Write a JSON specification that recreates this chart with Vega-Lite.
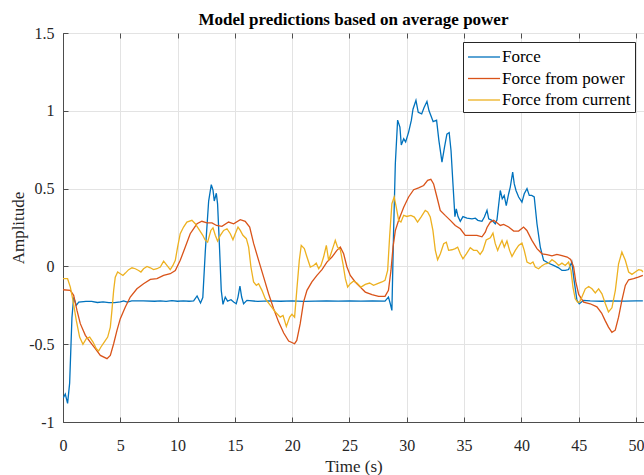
{
  "$schema": "https://vega.github.io/schema/vega-lite/v6.json",
  "width": 581,
  "height": 389,
  "autosize": {"type": "none"},
  "padding": {"left": 63, "top": 33, "right": 0, "bottom": 53},
  "background": "white",
  "title": {"text": "Model predictions based on average power", "font": "Liberation Serif", "fontSize": 17, "fontWeight": "bold", "color": "#000000", "anchor": "middle", "offset": -4},
  "config": {
    "font": "Liberation Serif",
    "view": {"stroke": "#4d4d4d", "strokeWidth": 1},
    "axis": {"labelFont": "Liberation Serif", "titleFont": "Liberation Serif", "labelFontSize": 16, "titleFontSize": 17, "titleFontWeight": "normal", "labelColor": "#262626", "titleColor": "#262626", "domainColor": "#4d4d4d", "tickColor": "#4d4d4d", "gridColor": "#e3e3e3", "gridWidth": 1}
  },
  "datasets": {
    "force": [
      {"time":0,"amplitude":-0.84},{"time":0.06,"amplitude":-0.84},{"time":0.2,"amplitude":-0.82},{"time":0.4,"amplitude":-0.88},{"time":0.58,"amplitude":-0.75},{"time":0.78,"amplitude":-0.33},{"time":0.93,"amplitude":-0.2},{"time":1.16,"amplitude":-0.25},{"time":1.37,"amplitude":-0.23},{"time":2,"amplitude":-0.225},{"time":2.5,"amplitude":-0.225},{"time":3,"amplitude":-0.232},{"time":3.5,"amplitude":-0.228},{"time":4,"amplitude":-0.233},{"time":4.5,"amplitude":-0.233},{"time":5,"amplitude":-0.228},{"time":5.3,"amplitude":-0.222},{"time":5.6,"amplitude":-0.23},{"time":6,"amplitude":-0.222},{"time":7,"amplitude":-0.222},{"time":8,"amplitude":-0.224},{"time":8.5,"amplitude":-0.222},{"time":9,"amplitude":-0.225},{"time":9.5,"amplitude":-0.22},{"time":10,"amplitude":-0.224},{"time":10.5,"amplitude":-0.222},{"time":11,"amplitude":-0.224},{"time":11.4,"amplitude":-0.222},{"time":11.7,"amplitude":-0.19},{"time":12.0,"amplitude":-0.235},{"time":12.2,"amplitude":-0.2},{"time":12.42,"amplitude":0.1},{"time":12.71,"amplitude":0.42},{"time":12.94,"amplitude":0.525},{"time":13.09,"amplitude":0.49},{"time":13.2,"amplitude":0.42},{"time":13.38,"amplitude":0.47},{"time":13.49,"amplitude":0.4},{"time":13.67,"amplitude":0.1},{"time":13.81,"amplitude":-0.154},{"time":13.96,"amplitude":-0.244},{"time":14.16,"amplitude":-0.197},{"time":14.36,"amplitude":-0.223},{"time":14.66,"amplitude":-0.214},{"time":14.89,"amplitude":-0.229},{"time":15.12,"amplitude":-0.24},{"time":15.27,"amplitude":-0.197},{"time":15.44,"amplitude":-0.126},{"time":15.59,"amplitude":-0.197},{"time":15.76,"amplitude":-0.24},{"time":16.05,"amplitude":-0.218},{"time":17,"amplitude":-0.225},{"time":18,"amplitude":-0.222},{"time":19,"amplitude":-0.224},{"time":20,"amplitude":-0.222},{"time":21,"amplitude":-0.225},{"time":22,"amplitude":-0.223},{"time":23,"amplitude":-0.222},{"time":24,"amplitude":-0.223},{"time":25,"amplitude":-0.222},{"time":26,"amplitude":-0.223},{"time":27,"amplitude":-0.222},{"time":28.1,"amplitude":-0.223},{"time":28.4,"amplitude":-0.197},{"time":28.56,"amplitude":-0.24},{"time":28.7,"amplitude":-0.283},{"time":28.85,"amplitude":0.23},{"time":29.0,"amplitude":0.66},{"time":29.2,"amplitude":0.94},{"time":29.4,"amplitude":0.895},{"time":29.52,"amplitude":0.78},{"time":29.73,"amplitude":0.82},{"time":29.9,"amplitude":0.8},{"time":30.16,"amplitude":0.863},{"time":30.4,"amplitude":0.94},{"time":30.54,"amplitude":1.01},{"time":30.8,"amplitude":1.067},{"time":31.0,"amplitude":0.99},{"time":31.3,"amplitude":0.98},{"time":31.5,"amplitude":1.02},{"time":31.76,"amplitude":1.06},{"time":31.94,"amplitude":1.0},{"time":32.1,"amplitude":0.97},{"time":32.3,"amplitude":0.93},{"time":32.6,"amplitude":0.94},{"time":32.8,"amplitude":0.81},{"time":33.07,"amplitude":0.67},{"time":33.3,"amplitude":0.77},{"time":33.5,"amplitude":0.85},{"time":33.7,"amplitude":0.86},{"time":33.86,"amplitude":0.745},{"time":34.03,"amplitude":0.53},{"time":34.2,"amplitude":0.32},{"time":34.32,"amplitude":0.37},{"time":34.47,"amplitude":0.32},{"time":34.67,"amplitude":0.29},{"time":34.9,"amplitude":0.32},{"time":35.25,"amplitude":0.31},{"time":35.69,"amplitude":0.306},{"time":35.98,"amplitude":0.31},{"time":36.2,"amplitude":0.296},{"time":36.56,"amplitude":0.29},{"time":36.77,"amplitude":0.317},{"time":37.0,"amplitude":0.36},{"time":37.15,"amplitude":0.306},{"time":37.43,"amplitude":0.296},{"time":37.72,"amplitude":0.274},{"time":37.87,"amplitude":0.3},{"time":38.16,"amplitude":0.488},{"time":38.33,"amplitude":0.435},{"time":38.5,"amplitude":0.456},{"time":38.68,"amplitude":0.39},{"time":38.89,"amplitude":0.467},{"time":39.03,"amplitude":0.51},{"time":39.24,"amplitude":0.606},{"time":39.38,"amplitude":0.53},{"time":39.53,"amplitude":0.488},{"time":39.76,"amplitude":0.446},{"time":40.05,"amplitude":0.413},{"time":40.25,"amplitude":0.467},{"time":40.49,"amplitude":0.5},{"time":40.69,"amplitude":0.456},{"time":40.9,"amplitude":0.456},{"time":41.12,"amplitude":0.446},{"time":41.36,"amplitude":0.274},{"time":41.65,"amplitude":0.124},{"time":41.94,"amplitude":0.039},{"time":42.38,"amplitude":0.02},{"time":42.81,"amplitude":0.006},{"time":43.25,"amplitude":-0.009},{"time":43.54,"amplitude":-0.026},{"time":43.83,"amplitude":-0.026},{"time":44.12,"amplitude":-0.02},{"time":44.4,"amplitude":0.028},{"time":44.6,"amplitude":-0.09},{"time":44.85,"amplitude":-0.218},{"time":45.05,"amplitude":-0.24},{"time":45.43,"amplitude":-0.218},{"time":46,"amplitude":-0.222},{"time":47,"amplitude":-0.224},{"time":48,"amplitude":-0.222},{"time":49,"amplitude":-0.223},{"time":50,"amplitude":-0.222},{"time":50.6,"amplitude":-0.222}
    ],
    "power": [
      {"time":0,"amplitude":-0.15},{"time":0.64,"amplitude":-0.154},{"time":0.93,"amplitude":-0.186},{"time":1.22,"amplitude":-0.283},{"time":1.51,"amplitude":-0.368},{"time":1.95,"amplitude":-0.443},{"time":2.38,"amplitude":-0.486},{"time":2.82,"amplitude":-0.529},{"time":3.26,"amplitude":-0.572},{"time":3.84,"amplitude":-0.593},{"time":4.13,"amplitude":-0.572},{"time":4.42,"amplitude":-0.497},{"time":4.71,"amplitude":-0.411},{"time":5.0,"amplitude":-0.336},{"time":5.44,"amplitude":-0.261},{"time":5.87,"amplitude":-0.197},{"time":6.45,"amplitude":-0.144},{"time":7.03,"amplitude":-0.111},{"time":7.62,"amplitude":-0.084},{"time":8.2,"amplitude":-0.079},{"time":8.78,"amplitude":-0.058},{"time":9.36,"amplitude":-0.047},{"time":9.8,"amplitude":-0.026},{"time":10.23,"amplitude":0.039},{"time":10.67,"amplitude":0.124},{"time":11.1,"amplitude":0.21},{"time":11.69,"amplitude":0.274},{"time":12.12,"amplitude":0.29},{"time":12.56,"amplitude":0.28},{"time":13.0,"amplitude":0.28},{"time":13.4,"amplitude":0.263},{"time":13.87,"amplitude":0.257},{"time":14.45,"amplitude":0.285},{"time":14.89,"amplitude":0.274},{"time":15.47,"amplitude":0.3},{"time":15.9,"amplitude":0.29},{"time":16.29,"amplitude":0.253},{"time":16.64,"amplitude":0.146},{"time":17.07,"amplitude":0.039},{"time":17.51,"amplitude":-0.069},{"time":17.94,"amplitude":-0.176},{"time":18.38,"amplitude":-0.272},{"time":18.82,"amplitude":-0.358},{"time":19.26,"amplitude":-0.428},{"time":19.69,"amplitude":-0.48},{"time":20.21,"amplitude":-0.497},{"time":20.4,"amplitude":-0.476},{"time":20.7,"amplitude":-0.368},{"time":20.99,"amplitude":-0.229},{"time":21.29,"amplitude":-0.154},{"time":21.72,"amplitude":-0.1},{"time":22.16,"amplitude":-0.058},{"time":22.6,"amplitude":-0.021},{"time":23.03,"amplitude":0.028},{"time":23.47,"amplitude":0.06},{"time":23.9,"amplitude":0.103},{"time":24.2,"amplitude":0.124},{"time":24.49,"amplitude":0.081},{"time":24.78,"amplitude":-0.004},{"time":25.07,"amplitude":-0.058},{"time":25.5,"amplitude":-0.1},{"time":25.94,"amplitude":-0.133},{"time":26.38,"amplitude":-0.165},{"time":26.96,"amplitude":-0.182},{"time":27.54,"amplitude":-0.193},{"time":28.1,"amplitude":-0.193},{"time":28.4,"amplitude":-0.154},{"time":28.62,"amplitude":-0.026},{"time":28.8,"amplitude":0.124},{"time":29.0,"amplitude":0.23},{"time":29.29,"amplitude":0.296},{"time":29.73,"amplitude":0.38},{"time":30.16,"amplitude":0.446},{"time":30.6,"amplitude":0.493},{"time":31.03,"amplitude":0.505},{"time":31.47,"amplitude":0.52},{"time":31.82,"amplitude":0.553},{"time":32.1,"amplitude":0.56},{"time":32.34,"amplitude":0.53},{"time":32.63,"amplitude":0.446},{"time":32.92,"amplitude":0.36},{"time":33.35,"amplitude":0.328},{"time":33.8,"amplitude":0.296},{"time":34.23,"amplitude":0.263},{"time":34.67,"amplitude":0.242},{"time":35.1,"amplitude":0.2},{"time":35.54,"amplitude":0.2},{"time":36.12,"amplitude":0.2},{"time":36.56,"amplitude":0.19},{"time":36.85,"amplitude":0.22},{"time":37.0,"amplitude":0.25},{"time":37.29,"amplitude":0.285},{"time":37.58,"amplitude":0.296},{"time":37.87,"amplitude":0.28},{"time":38.16,"amplitude":0.263},{"time":38.45,"amplitude":0.27},{"time":38.89,"amplitude":0.253},{"time":39.33,"amplitude":0.227},{"time":39.76,"amplitude":0.227},{"time":40.19,"amplitude":0.253},{"time":40.48,"amplitude":0.231},{"time":40.92,"amplitude":0.167},{"time":41.36,"amplitude":0.114},{"time":41.8,"amplitude":0.081},{"time":42.23,"amplitude":0.075},{"time":42.67,"amplitude":0.068},{"time":43.1,"amplitude":0.077},{"time":43.54,"amplitude":0.07},{"time":44.0,"amplitude":0.06},{"time":44.3,"amplitude":0.045},{"time":44.56,"amplitude":-0.004},{"time":44.75,"amplitude":-0.1},{"time":45.0,"amplitude":-0.18},{"time":45.43,"amplitude":-0.23},{"time":46.0,"amplitude":-0.24},{"time":46.59,"amplitude":-0.26},{"time":47.0,"amplitude":-0.3},{"time":47.3,"amplitude":-0.347},{"time":47.6,"amplitude":-0.39},{"time":47.9,"amplitude":-0.424},{"time":48.19,"amplitude":-0.41},{"time":48.48,"amplitude":-0.326},{"time":48.77,"amplitude":-0.218},{"time":49.07,"amplitude":-0.122},{"time":49.36,"amplitude":-0.086},{"time":49.79,"amplitude":-0.079},{"time":50.2,"amplitude":-0.069},{"time":50.6,"amplitude":-0.058}
    ],
    "current": [
      {"time":0,"amplitude":-0.079},{"time":0.4,"amplitude":-0.079},{"time":0.64,"amplitude":-0.133},{"time":0.87,"amplitude":-0.218},{"time":1.16,"amplitude":-0.347},{"time":1.45,"amplitude":-0.454},{"time":1.74,"amplitude":-0.501},{"time":2.03,"amplitude":-0.465},{"time":2.33,"amplitude":-0.454},{"time":2.62,"amplitude":-0.486},{"time":2.91,"amplitude":-0.529},{"time":3.11,"amplitude":-0.544},{"time":3.31,"amplitude":-0.518},{"time":3.6,"amplitude":-0.486},{"time":3.9,"amplitude":-0.454},{"time":4.13,"amplitude":-0.39},{"time":4.27,"amplitude":-0.283},{"time":4.42,"amplitude":-0.154},{"time":4.56,"amplitude":-0.069},{"time":4.77,"amplitude":-0.036},{"time":5.0,"amplitude":-0.047},{"time":5.23,"amplitude":-0.058},{"time":5.44,"amplitude":-0.043},{"time":5.73,"amplitude":-0.021},{"time":6.02,"amplitude":-0.009},{"time":6.31,"amplitude":-0.015},{"time":6.6,"amplitude":-0.026},{"time":6.8,"amplitude":-0.036},{"time":7.03,"amplitude":-0.015},{"time":7.33,"amplitude":0},{"time":7.62,"amplitude":-0.009},{"time":7.9,"amplitude":-0.021},{"time":8.2,"amplitude":-0.015},{"time":8.49,"amplitude":-0.004},{"time":8.78,"amplitude":0.034},{"time":9.07,"amplitude":0.006},{"time":9.36,"amplitude":-0.021},{"time":9.59,"amplitude":0.006},{"time":9.8,"amplitude":0.039},{"time":10.0,"amplitude":0.124},{"time":10.23,"amplitude":0.21},{"time":10.52,"amplitude":0.253},{"time":10.81,"amplitude":0.285},{"time":11.25,"amplitude":0.296},{"time":11.54,"amplitude":0.274},{"time":11.92,"amplitude":0.231},{"time":12.2,"amplitude":0.2},{"time":12.4,"amplitude":0.17},{"time":12.62,"amplitude":0.156},{"time":12.9,"amplitude":0.231},{"time":13.09,"amplitude":0.248},{"time":13.29,"amplitude":0.2},{"time":13.49,"amplitude":0.163},{"time":13.73,"amplitude":0.2},{"time":14.02,"amplitude":0.231},{"time":14.31,"amplitude":0.242},{"time":14.6,"amplitude":0.21},{"time":14.83,"amplitude":0.171},{"time":15.03,"amplitude":0.21},{"time":15.27,"amplitude":0.253},{"time":15.47,"amplitude":0.231},{"time":15.7,"amplitude":0.2},{"time":16.0,"amplitude":0.178},{"time":16.2,"amplitude":0.124},{"time":16.4,"amplitude":-0.004},{"time":16.63,"amplitude":-0.1},{"time":16.87,"amplitude":-0.122},{"time":17.07,"amplitude":-0.111},{"time":17.36,"amplitude":-0.154},{"time":17.65,"amplitude":-0.208},{"time":18.09,"amplitude":-0.25},{"time":18.53,"amplitude":-0.293},{"time":18.96,"amplitude":-0.326},{"time":19.2,"amplitude":-0.315},{"time":19.49,"amplitude":-0.386},{"time":19.78,"amplitude":-0.326},{"time":19.98,"amplitude":-0.308},{"time":20.21,"amplitude":-0.326},{"time":20.4,"amplitude":-0.154},{"time":20.62,"amplitude":0.039},{"time":20.79,"amplitude":0.135},{"time":21.06,"amplitude":0.114},{"time":21.29,"amplitude":0.06},{"time":21.58,"amplitude":-0.004},{"time":21.87,"amplitude":0.006},{"time":22.1,"amplitude":0.021},{"time":22.31,"amplitude":-0.015},{"time":22.51,"amplitude":0.006},{"time":22.74,"amplitude":0.06},{"time":22.98,"amplitude":0.135},{"time":23.18,"amplitude":0.039},{"time":23.38,"amplitude":0.081},{"time":23.62,"amplitude":0.135},{"time":23.76,"amplitude":0.167},{"time":23.96,"amplitude":0.124},{"time":24.2,"amplitude":0.107},{"time":24.43,"amplitude":0.017},{"time":24.64,"amplitude":-0.079},{"time":24.84,"amplitude":-0.133},{"time":25.07,"amplitude":-0.111},{"time":25.36,"amplitude":-0.094},{"time":25.65,"amplitude":-0.107},{"time":26.0,"amplitude":-0.133},{"time":26.38,"amplitude":-0.116},{"time":26.76,"amplitude":-0.107},{"time":27.1,"amplitude":-0.122},{"time":27.45,"amplitude":-0.111},{"time":27.83,"amplitude":-0.1},{"time":28.1,"amplitude":-0.09},{"time":28.33,"amplitude":-0.026},{"time":28.5,"amplitude":0.188},{"time":28.7,"amplitude":0.403},{"time":28.9,"amplitude":0.446},{"time":29.08,"amplitude":0.381},{"time":29.29,"amplitude":0.296},{"time":29.49,"amplitude":0.285},{"time":29.73,"amplitude":0.328},{"time":30.0,"amplitude":0.321},{"time":30.36,"amplitude":0.328},{"time":30.66,"amplitude":0.317},{"time":30.94,"amplitude":0.285},{"time":31.24,"amplitude":0.317},{"time":31.61,"amplitude":0.36},{"time":31.82,"amplitude":0.35},{"time":32.05,"amplitude":0.317},{"time":32.28,"amplitude":0.231},{"time":32.49,"amplitude":0.103},{"time":32.69,"amplitude":0.043},{"time":32.93,"amplitude":0.081},{"time":33.22,"amplitude":0.146},{"time":33.45,"amplitude":0.156},{"time":33.65,"amplitude":0.103},{"time":33.94,"amplitude":0.107},{"time":34.23,"amplitude":0.114},{"time":34.44,"amplitude":0.124},{"time":34.67,"amplitude":0.081},{"time":34.9,"amplitude":0.049},{"time":35.2,"amplitude":0.081},{"time":35.54,"amplitude":0.12},{"time":35.83,"amplitude":0.103},{"time":36.12,"amplitude":0.103},{"time":36.4,"amplitude":0.077},{"time":36.64,"amplitude":0.103},{"time":36.93,"amplitude":0.17},{"time":37.29,"amplitude":0.184},{"time":37.52,"amplitude":0.214},{"time":37.72,"amplitude":0.146},{"time":37.93,"amplitude":0.103},{"time":38.1,"amplitude":0.135},{"time":38.31,"amplitude":0.167},{"time":38.51,"amplitude":0.124},{"time":38.74,"amplitude":0.163},{"time":38.97,"amplitude":0.103},{"time":39.18,"amplitude":0.064},{"time":39.47,"amplitude":0.103},{"time":39.76,"amplitude":0.135},{"time":40.05,"amplitude":0.15},{"time":40.25,"amplitude":0.103},{"time":40.49,"amplitude":0.028},{"time":40.78,"amplitude":0.017},{"time":41.01,"amplitude":0.028},{"time":41.21,"amplitude":-0.004},{"time":41.5,"amplitude":-0.015},{"time":41.8,"amplitude":0.004},{"time":42.09,"amplitude":0.017},{"time":42.38,"amplitude":0.021},{"time":42.67,"amplitude":0.043},{"time":42.96,"amplitude":0.028},{"time":43.25,"amplitude":0.006},{"time":43.54,"amplitude":0.021},{"time":43.83,"amplitude":0.006},{"time":44.12,"amplitude":0.028},{"time":44.33,"amplitude":-0.026},{"time":44.5,"amplitude":-0.133},{"time":44.7,"amplitude":-0.208},{"time":44.9,"amplitude":-0.229},{"time":45.08,"amplitude":-0.229},{"time":45.28,"amplitude":-0.197},{"time":45.58,"amplitude":-0.144},{"time":45.87,"amplitude":-0.129},{"time":46.16,"amplitude":-0.144},{"time":46.45,"amplitude":-0.171},{"time":46.74,"amplitude":-0.144},{"time":47.03,"amplitude":-0.176},{"time":47.33,"amplitude":-0.24},{"time":47.6,"amplitude":-0.293},{"time":47.9,"amplitude":-0.266},{"time":48.2,"amplitude":-0.154},{"time":48.48,"amplitude":0.017},{"time":48.77,"amplitude":0.092},{"time":49.07,"amplitude":0.039},{"time":49.36,"amplitude":-0.036},{"time":49.65,"amplitude":-0.051},{"time":49.94,"amplitude":-0.036},{"time":50.23,"amplitude":-0.021},{"time":50.5,"amplitude":-0.026},{"time":50.6,"amplitude":-0.036}
    ]
  },
  "resolve": {"axis": {"x": "independent"}},
  "layer": [
    {
      "data": {"name": "force"},
      "mark": {"type": "line", "strokeWidth": 1.3},
      "encoding": {
        "x": {"field": "time", "type": "quantitative", "scale": {"domain": [0, 50.7], "nice": false, "zero": false}, "axis": {"title": "Time (s)", "values": [0,5,10,15,20,25,30,35,40,45,50], "grid": true, "tickSize": -5, "labelPadding": 20, "titlePadding": 5, "labelFlush": false}},
        "y": {"field": "amplitude", "type": "quantitative", "scale": {"domain": [-1, 1.5], "nice": false, "zero": false}, "axis": {"title": "Amplitude", "values": [-1,-0.5,0,0.5,1,1.5], "labelExpr": "datum.value + ''", "grid": true, "tickSize": -5, "labelPadding": 14, "titlePadding": 1, "labelFlush": false}},
        "color": {"datum": "Force", "type": "nominal", "scale": {"domain": ["Force", "Force from power", "Force from current"], "range": ["#0072BD", "#D95319", "#EDB120"]}, "legend": {"title": null, "orient": "top-right", "offset": 9, "strokeColor": "#262626", "fillColor": "white", "padding": 4, "labelFont": "Liberation Serif", "labelFontSize": 17, "labelColor": "#000000", "symbolType": "M-1,0H2.2", "symbolSize": 400, "symbolStrokeWidth": 1.3, "symbolFillColor": "transparent", "labelOffset": 13, "rowPadding": 2.5}}
      }
    },
    {
      "data": {"name": "power"},
      "mark": {"type": "line", "strokeWidth": 1.3},
      "encoding": {
        "x": {"field": "time", "type": "quantitative", "axis": null},
        "y": {"field": "amplitude", "type": "quantitative"},
        "color": {"datum": "Force from power", "type": "nominal"}
      }
    },
    {
      "data": {"name": "current"},
      "mark": {"type": "line", "strokeWidth": 1.3},
      "encoding": {
        "x": {"field": "time", "type": "quantitative", "axis": null},
        "y": {"field": "amplitude", "type": "quantitative"},
        "color": {"datum": "Force from current", "type": "nominal"}
      }
    },
    {
      "data": {"name": "force"},
      "mark": {"type": "line", "opacity": 0},
      "encoding": {
        "x": {"field": "time", "type": "quantitative", "axis": {"orient": "top", "title": null, "labels": false, "grid": false, "values": [0,5,10,15,20,25,30,35,40,45,50], "tickSize": -5, "domain": false}},
        "y": {"field": "amplitude", "type": "quantitative"}
      }
    }
  ]
}
